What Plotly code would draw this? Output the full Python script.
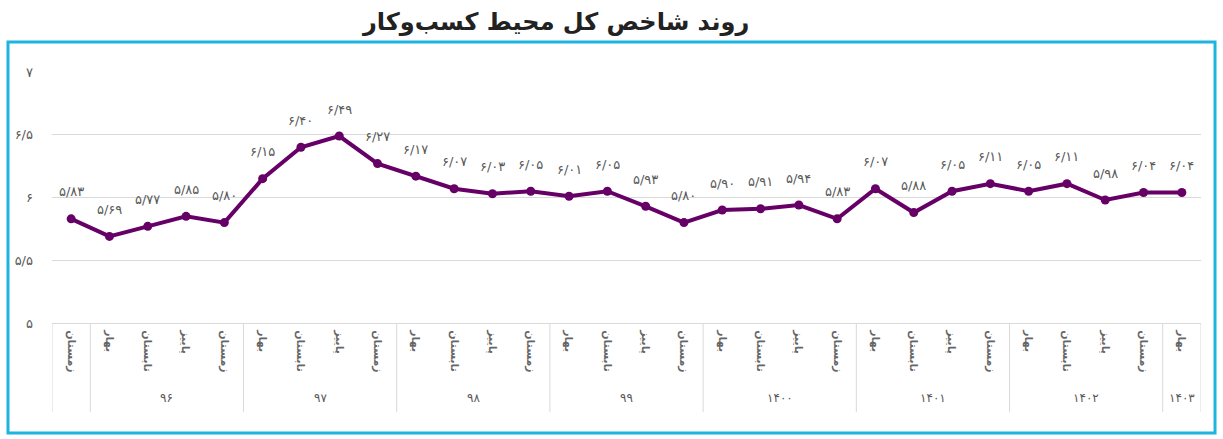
import plotly.graph_objects as go

years = [""] + ["۹۶"] * 4 + ["۹۷"] * 4 + ["۹۸"] * 4 + ["۹۹"] * 4 + \
    ["۱۴۰۰"] * 4 + ["۱۴۰۱"] * 4 + ["۱۴۰۲"] * 4 + ["۱۴۰۳"]
season_cycle = ["بهار", "تابستان", "پاییز", "زمستان"]
seasons = ["زمستان"] + season_cycle * 7 + ["بهار"]
values = [5.83, 5.69, 5.77, 5.85, 5.80,
          6.15, 6.40, 6.49, 6.27,
          6.17, 6.07, 6.03, 6.05,
          6.01, 6.05, 5.93, 5.80,
          5.90, 5.91, 5.94, 5.83,
          6.07, 5.88, 6.05, 6.11,
          6.05, 6.11, 5.98, 6.04,
          6.04]
y_ticks = [5, 5.5, 6, 6.5, 7]

fa_digits = str.maketrans("0123456789.", "۰۱۲۳۴۵۶۷۸۹/")


def to_fa(v, fmt):
    return format(v, fmt).translate(fa_digits)


purple = "#660066"
gray = "#595959"
line_gray = "#D9D9D9"
idx = list(range(len(values)))

fig = go.Figure()
fig.add_trace(go.Scatter(
    x=idx,
    y=values,
    mode="lines+markers",
    line=dict(color=purple, width=4),
    marker=dict(color=purple, size=9),
    hoverinfo="y",
))

# data labels above the points
for i, v in zip(idx, values):
    fig.add_annotation(
        x=i, y=v, xref="x", yref="y",
        text=to_fa(v, ".2f"), showarrow=False, yshift=27,
        font=dict(size=13, color=gray),
    )

# year groups under the season labels, with divider lines
groups = []
for i, yname in enumerate(years):
    if groups and groups[-1][0] == yname:
        groups[-1][2] = i
    else:
        groups.append([yname, i, i])

for yname, first, last in groups:
    fig.add_annotation(
        x=(first + last) / 2, y=-0.299, xref="x", yref="paper",
        yanchor="middle", text=yname, showarrow=False,
        font=dict(size=12, color=gray),
    )
    fig.add_shape(
        type="line", xref="x", yref="paper",
        x0=first - 0.5, x1=first - 0.5, y0=0, y1=-0.355,
        line=dict(color=line_gray, width=1),
    )
fig.add_shape(
    type="line", xref="x", yref="paper",
    x0=idx[-1] + 0.5, x1=idx[-1] + 0.5, y0=0, y1=-0.355,
    line=dict(color=line_gray, width=1),
)

fig.add_annotation(
    x=0.4378, y=1.199, xref="paper", yref="paper",
    xanchor="center", yanchor="middle",
    text="<b>روند شاخص کل محیط کسب‌وکار</b>", showarrow=False,
    font=dict(size=24, color="#222222"),
)

fig.add_shape(
    type="rect", xref="paper", yref="paper",
    x0=-0.0383, x1=1.0122, y0=-0.438, y1=1.1195,
    line=dict(color="#1EB4E0", width=3),
)

fig.update_layout(
    width=1223, height=439,
    margin=dict(l=52, r=22, t=72, b=116, autoexpand=False),
    paper_bgcolor="white", plot_bgcolor="white",
    font=dict(family="DejaVu Sans", color=gray),
    showlegend=False,
    xaxis=dict(
        range=[-0.5, len(values) - 0.5],
        tickvals=idx,
        ticktext=["<b>" + s + "</b>" for s in seasons],
        tickangle=90,
        tickfont=dict(size=11, color="#666666"),
        showline=True, linecolor=line_gray, linewidth=1,
        showgrid=False, zeroline=False, ticks="",
        ticklabelstandoff=4,
        automargin=False,
    ),
    yaxis=dict(
        range=[5, 7],
        tickvals=y_ticks,
        ticktext=[to_fa(t, "g") for t in y_ticks],
        tickfont=dict(size=13, color=gray),
        showgrid=True, gridcolor=line_gray, gridwidth=1,
        zeroline=False, ticklabelstandoff=18,
        automargin=False,
    ),
)

fig.write_html("out.html", config={"displayModeBar": False},
               post_script="document.body.style.margin='0';")
